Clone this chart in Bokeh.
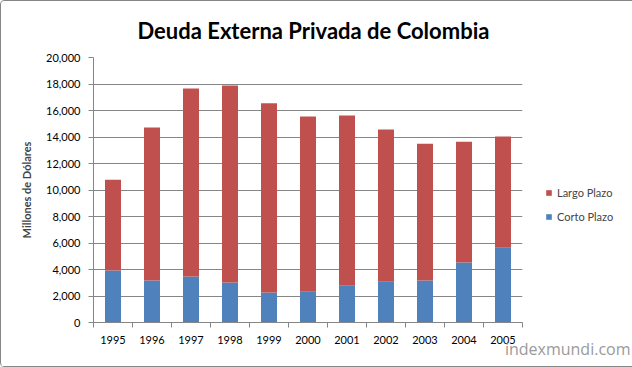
from bokeh.plotting import figure
from bokeh.models import ColumnDataSource, FixedTicker, NumeralTickFormatter, Legend, LegendItem, Title, Range1d
from bokeh.embed import file_html
from bokeh.resources import INLINE

years = ["1995", "1996", "1997", "1998", "1999", "2000", "2001", "2002", "2003", "2004", "2005"]
corto_plazo = [3930, 3170, 3480, 3020, 2270, 2320, 2770, 3070, 3170, 4530, 5640]
largo_plazo = [6850, 11540, 14180, 14860, 14280, 13220, 12850, 11490, 10330, 9120, 8390]
y_ticks = [0, 2000, 4000, 6000, 8000, 10000, 12000, 14000, 16000, 18000, 20000]

RED = "#C0504D"
BLUE = "#4F81BD"
GRID = "#868686"
FONT = "Lato"

xs = [i + 0.5 for i in range(len(years))]
src = ColumnDataSource(dict(x=xs, corto=corto_plazo, largo=largo_plazo))

p = figure(frame_width=429, frame_height=265, output_backend="svg", toolbar_location=None,
           x_range=Range1d(0, len(years)), y_range=Range1d(0, 20000),
           min_border_left=92, min_border_right=109, min_border_top=56, min_border_bottom=44,
           styles={"border": "1px solid #868686", "border-radius": "4px"})
p.outline_line_color = None
p.background_fill_color = "white"
p.border_fill_color = "white"

r = p.vbar_stack(["corto", "largo"], x="x", width=0.41, color=[BLUE, RED], source=src, line_color=None)

# axes
p.xaxis.ticker = FixedTicker(ticks=xs, minor_ticks=list(range(len(years) + 1)))
p.xaxis.major_label_overrides = {x: y for x, y in zip(xs, years)}
p.xaxis.major_tick_line_color = None
p.xaxis.major_tick_out = 5
p.xaxis.major_tick_in = 0
p.xaxis.minor_tick_line_color = GRID
p.xaxis.minor_tick_out = 5
p.xaxis.minor_tick_in = 0
p.xaxis.major_label_standoff = 8
p.xaxis.axis_line_color = GRID
p.xgrid.grid_line_color = None

p.yaxis.ticker = FixedTicker(ticks=y_ticks)
p.yaxis.formatter = NumeralTickFormatter(format="0,0")
p.yaxis.major_tick_out = 5
p.yaxis.major_tick_in = 0
p.yaxis.major_tick_line_color = GRID
p.yaxis.minor_tick_line_color = None
p.yaxis.axis_line_color = GRID
p.yaxis.major_label_standoff = 8
p.yaxis.axis_label = "Millones de Dólares"
p.yaxis.axis_label_text_font = FONT
p.yaxis.axis_label_text_font_size = "11px"
p.yaxis.axis_label_text_font_style = "bold"
p.yaxis.axis_label_standoff = 10
p.ygrid.grid_line_color = GRID
p.ygrid.grid_line_width = 1

for ax in (p.xaxis, p.yaxis):
    ax.major_label_text_font = FONT
    ax.major_label_text_font_size = "11px"
    ax.major_label_text_color = "black"

legend = Legend(items=[LegendItem(label="Largo Plazo", renderers=[r[1]]),
                       LegendItem(label="Corto Plazo", renderers=[r[0]])],
                location=(23, 99), glyph_width=7, glyph_height=7, label_height=14,
                spacing=10, padding=0, margin=0, border_line_color=None,
                background_fill_alpha=0, label_text_font=FONT, label_text_font_size="11px",
                label_standoff=5)
p.add_layout(legend, "right")

p.title = Title(text="Deuda Externa Privada de Colombia", align="left", offset=44,
                text_font=FONT, text_font_size="22px", text_font_style="bold",
                text_color="black", standoff=27)

wm = Title(text="indexmundi.com", align="right", text_font="Open Sans", text_font_size="16px",
           text_font_style="normal", text_color="#9a9a9a", standoff=-22, offset=-108)
p.add_layout(wm, "below")

open("out.html", "w").write(file_html(p, INLINE))
